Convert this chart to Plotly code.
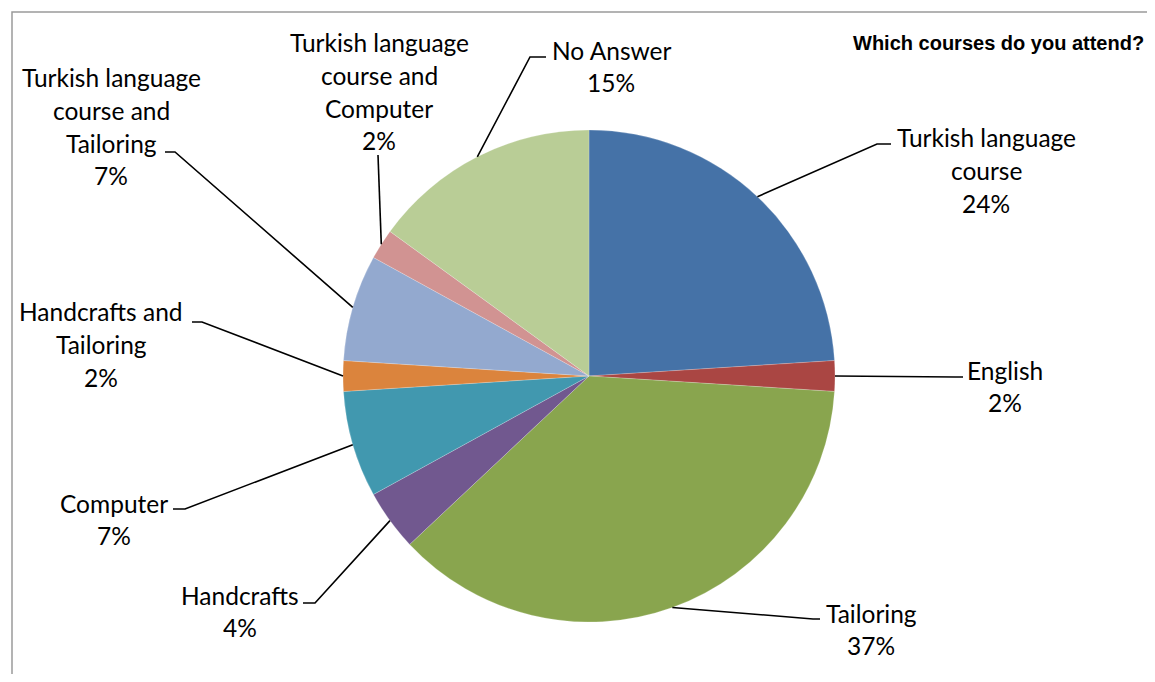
import math
import plotly.graph_objects as go

# ---------------- data ----------------
categories = [
    "Turkish language course", "English", "Tailoring", "Handcrafts", "Computer",
    "Handcrafts and Tailoring", "Turkish language course and Tailoring",
    "Turkish language course and Computer", "No Answer",
]
label_lines = [
    ["Turkish language", "course"], ["English"], ["Tailoring"], ["Handcrafts"], ["Computer"],
    ["Handcrafts and", "Tailoring"], ["Turkish language", "course and", "Tailoring"],
    ["Turkish language", "course and", "Computer"], ["No Answer"],
]
values = [24, 2, 37, 4, 7, 2, 7, 2, 15]
colors = ["#4572A7", "#AA4643", "#89A54E", "#71588F", "#4198AF",
          "#DB843D", "#93A9CF", "#D19392", "#B9CD96"]
title_text = "Which courses do you attend?"

# ---------------- layout constants (window pixels) ----------------
OFF = 8                      # page body margin
W, H = 1155 - 2 * OFF, 682 - 2 * OFF
CX, CY, R = 589, 376, 246
text_cx = [986, 1005, 871, 240, 114, 101, 111, 379, 611]
text_y0 = [138, 370, 613, 595, 503, 312, 78, 43, 50]
LINE_STEP = 32.6
elbow = [(877, 144), (955, 377), (813, 619), (315, 603), (185, 509),
         (202, 322), (175, 152), (378, 155), (530, 57)]
tick_end = [(891, 144), (963, 377), (820, 619), (303, 603), (173, 509),
            (192, 322), (165, 152), (378, 155), (546, 57)]

def px(x):
    return (x - OFF) / W

def py(y):
    return 1 - (y - OFF) / H

fig = go.Figure(go.Pie(
    labels=categories, values=values, sort=False, direction="clockwise",
    rotation=0, textinfo="none", hoverinfo="label+percent",
    marker=dict(colors=colors, line=dict(color="rgba(255,255,255,0.4)", width=0.5)),
    domain=dict(x=[px(CX - R), px(CX + R)], y=[py(CY + R), py(CY - R)]),
    showlegend=False,
))

total = sum(values)
annotations = []
shapes = []
cum = 0
for i, v in enumerate(values):
    mid = (cum + v / 2) / total * 2 * math.pi
    cum += v
    rx = CX + R * math.sin(mid)
    ry = CY - R * math.cos(mid)
    ex, ey = elbow[i]
    tx, ty = tick_end[i]
    path = f"M {px(rx)},{py(ry)} L {px(ex)},{py(ey)} L {px(tx)},{py(ty)}"
    shapes.append(dict(type="path", xref="paper", yref="paper", path=path,
                       line=dict(color="black", width=1.6)))
    lines = label_lines[i] + [f"{v / total * 100:.0f}%"]
    for k, t in enumerate(lines):
        annotations.append(dict(
            x=px(text_cx[i]), y=py(text_y0[i] + k * LINE_STEP),
            xref="paper", yref="paper", text=t, showarrow=False,
            xanchor="center", yanchor="middle",
            font=dict(family="Lato", size=24.5, color="black"),
        ))

annotations.append(dict(
    x=px(1146), y=py(43), xref="paper", yref="paper", text=f"<b>{title_text}</b>",
    showarrow=False, xanchor="right", yanchor="middle",
    font=dict(family="Liberation Sans", size=20, color="black"),
))

# chart border (only the top and left edges are visible)
shapes.append(dict(type="path", xref="paper", yref="paper",
                   path=f"M {px(12)},{py(700)} L {px(12)},{py(12)} L {px(1180)},{py(12)}",
                   line=dict(color="#9a9a9a", width=1.5), layer="below"))

fig.update_layout(
    width=W, height=H, margin=dict(l=0, r=0, t=0, b=0),
    paper_bgcolor="white", plot_bgcolor="white",
    annotations=annotations, shapes=shapes,
)

fig.write_html("out.html")
